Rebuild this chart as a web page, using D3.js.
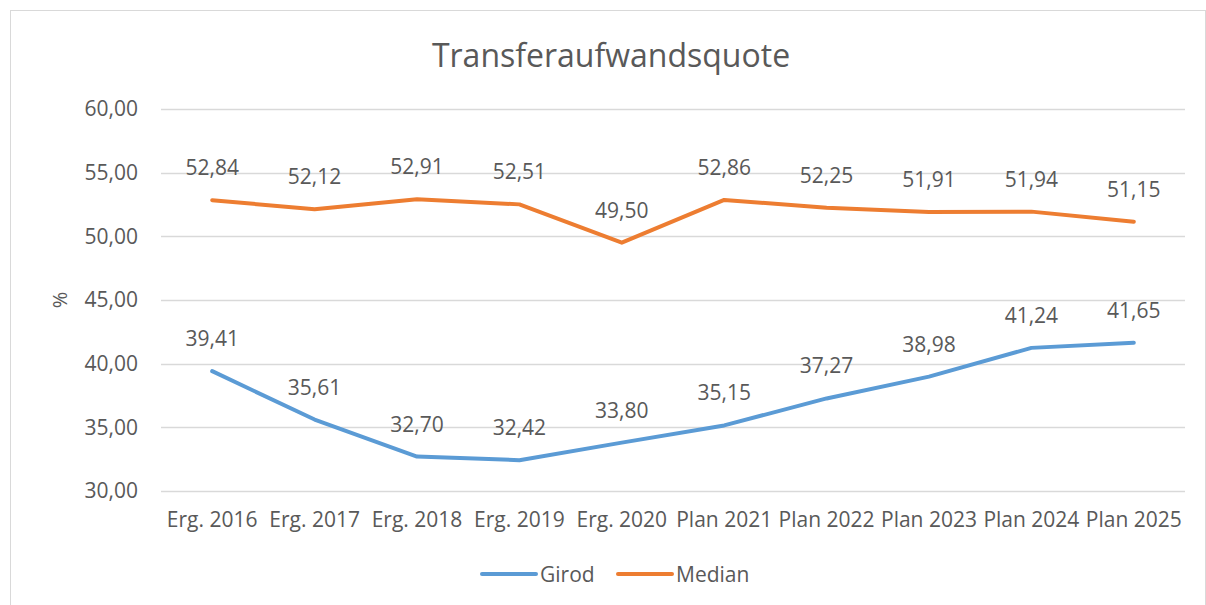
<!DOCTYPE html>
<html>
<head>
<meta charset="utf-8">
<script src="https://cdn.jsdelivr.net/npm/d3@7"></script>
<style>
  body { margin: 0; background: #fff; }
  text { font-family: "Open Sans", "Noto Sans", sans-serif; fill: #595959; }
</style>
</head>
<body>
<div id="chart"></div>
<script>
const width = 1206;
const height = 605;

const categories = ["Erg. 2016", "Erg. 2017", "Erg. 2018", "Erg. 2019", "Erg. 2020",
  "Plan 2021", "Plan 2022", "Plan 2023", "Plan 2024", "Plan 2025"];
const girod = [39.41, 35.61, 32.70, 32.42, 33.80, 35.15, 37.27, 38.98, 41.24, 41.65];
const median = [52.84, 52.12, 52.91, 52.51, 49.50, 52.86, 52.25, 51.91, 51.94, 51.15];
const yTicks = [30, 35, 40, 45, 50, 55, 60];

const series = [
  { name: "Girod", values: girod, color: "#5B9BD5" },
  { name: "Median", values: median, color: "#ED7D31" }
];

const plot = { left: 161, right: 1185, top: 109, bottom: 491 };
const fmt = v => v.toFixed(2).replace(".", ",");

const svg = d3.select("#chart").append("svg")
  .attr("width", width)
  .attr("height", height);

// outer frame
svg.append("rect")
  .attr("x", 10.5).attr("y", 10.5)
  .attr("width", 1195).attr("height", 600)
  .attr("fill", "none")
  .attr("stroke", "#d9d9d9");

const x = d3.scaleBand()
  .domain(categories)
  .range([plot.left, plot.right]);

const y = d3.scaleLinear()
  .domain([30, 60])
  .range([plot.bottom, plot.top]);

// gridlines
svg.append("g")
  .selectAll("line")
  .data(yTicks)
  .enter()
  .append("line")
  .attr("x1", plot.left).attr("x2", plot.right)
  .attr("y1", d => Math.round(y(d)) + 0.5)
  .attr("y2", d => Math.round(y(d)) + 0.5)
  .attr("stroke", "#d9d9d9")
  .attr("stroke-width", 1.3);

// y axis labels
const yAxis = svg.append("g")
  .attr("transform", `translate(${plot.left}, 0)`)
  .call(d3.axisLeft(y).tickValues(yTicks).tickFormat(fmt).tickSize(0).tickPadding(23));
yAxis.select(".domain").remove();
yAxis.selectAll("text")
  .style("font-size", "21px")
  .style("font-family", "'Open Sans', sans-serif")
  .attr("fill", "#595959");

// x axis labels
const xAxis = svg.append("g")
  .attr("transform", `translate(0, ${plot.bottom})`)
  .call(d3.axisBottom(x).tickSize(0).tickPadding(21));
xAxis.select(".domain").remove();
xAxis.selectAll("text")
  .style("font-size", "21px")
  .style("font-family", "'Open Sans', sans-serif")
  .attr("fill", "#595959");

// y axis title
svg.append("text")
  .attr("transform", `translate(67, ${(plot.top + plot.bottom) / 2}) rotate(-90)`)
  .attr("text-anchor", "middle")
  .style("font-size", "20px")
  .text("%");

// title
svg.append("text")
  .attr("x", 611)
  .attr("y", 67)
  .attr("text-anchor", "middle")
  .style("font-size", "32px")
  .text("Transferaufwandsquote");

// lines
const line = d3.line()
  .x((d, i) => x(categories[i]) + x.bandwidth() / 2)
  .y(d => y(d));

series.forEach(s => {
  svg.append("path")
    .datum(s.values)
    .attr("fill", "none")
    .attr("stroke", s.color)
    .attr("stroke-width", 4)
    .attr("stroke-linejoin", "round")
    .attr("stroke-linecap", "round")
    .attr("d", line);

  svg.append("g")
    .selectAll("text")
    .data(s.values)
    .enter()
    .append("text")
    .attr("x", (d, i) => x(categories[i]) + x.bandwidth() / 2)
    .attr("y", d => y(d) - 25)
    .attr("text-anchor", "middle")
    .style("font-size", "21px")
    .text(d => fmt(d));
});

// legend
const legend = svg.append("g")
  .selectAll("g")
  .data(series)
  .enter()
  .append("g")
  .attr("transform", (d, i) => `translate(${482 + i * 136}, 574)`);

legend.append("line")
  .attr("x1", 0).attr("x2", 54)
  .attr("stroke", d => d.color)
  .attr("stroke-width", 4)
  .attr("stroke-linecap", "round");

legend.append("text")
  .attr("x", 58)
  .attr("y", 8)
  .style("font-size", "21px")
  .text(d => d.name);
</script>
</body>
</html>
